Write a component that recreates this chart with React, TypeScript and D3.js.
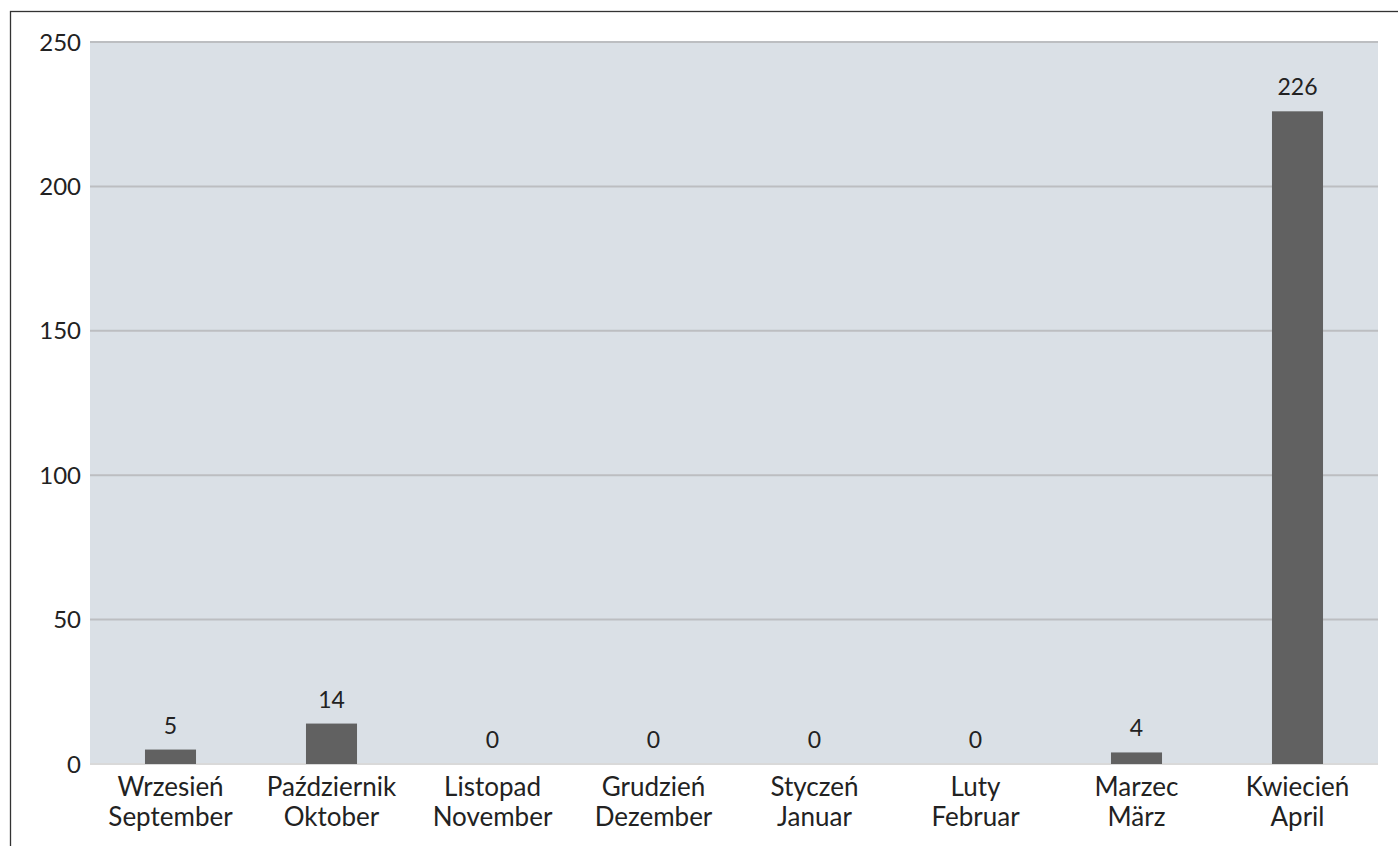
import React, { useEffect, useRef } from "react";
import * as d3 from "d3";

const monthsPl = ["Wrzesień", "Październik", "Listopad", "Grudzień", "Styczeń", "Luty", "Marzec", "Kwiecień"];
const monthsDe = ["September", "Oktober", "November", "Dezember", "Januar", "Februar", "März", "April"];
const counts = [5, 14, 0, 0, 0, 0, 4, 226];
const yTicks = [0, 50, 100, 150, 200, 250];

const App = () => {
  const chartRef = useRef<SVGSVGElement>(null);

  useEffect(() => {
    document.body.style.margin = "0";
    const width = 1398;
    const height = 846;
    const margin = { top: 42, right: 20, bottom: 82, left: 90 };
    const font = "Lato, 'Noto Sans', sans-serif";

    const svg = d3.select(chartRef.current);
    svg.selectAll("*").remove();

    const x = d3
      .scaleBand()
      .domain(monthsPl)
      .range([margin.left, width - margin.right])
      .paddingInner(0.683)
      .paddingOuter(0.3415);

    const y = d3
      .scaleLinear()
      .domain([0, 250])
      .range([height - margin.bottom, margin.top]);

    // outer frame (extends past the page on right/bottom)
    svg
      .append("rect")
      .attr("x", 10.5)
      .attr("y", 11.5)
      .attr("width", width + 20)
      .attr("height", height + 20)
      .attr("fill", "none")
      .attr("stroke", "#333")
      .attr("stroke-width", 1.3);

    svg
      .append("rect")
      .attr("x", margin.left)
      .attr("y", margin.top)
      .attr("width", width - margin.right - margin.left)
      .attr("height", y(0) - margin.top)
      .attr("fill", "#dae0e6");

    svg
      .selectAll(".grid")
      .data(yTicks.filter((d) => d > 0))
      .enter()
      .append("line")
      .attr("class", "grid")
      .attr("x1", margin.left)
      .attr("x2", width - margin.right)
      .attr("y1", (d) => y(d))
      .attr("y2", (d) => y(d))
      .attr("stroke", "#bcbec1")
      .attr("stroke-width", 2);

    svg
      .append("line")
      .attr("x1", margin.left)
      .attr("x2", width - margin.right)
      .attr("y1", y(0))
      .attr("y2", y(0))
      .attr("stroke", "#d9d9d9")
      .attr("stroke-width", 2);

    svg
      .selectAll(".bar")
      .data(counts)
      .enter()
      .append("rect")
      .attr("class", "bar")
      .attr("x", (d, i) => x(monthsPl[i])!)
      .attr("width", x.bandwidth())
      .attr("y", (d) => y(d))
      .attr("height", (d) => y(0) - y(d))
      .attr("fill", "#616161");

    svg
      .selectAll(".val")
      .data(counts)
      .enter()
      .append("text")
      .attr("class", "val")
      .attr("x", (d, i) => x(monthsPl[i])! + x.bandwidth() / 2)
      .attr("y", (d) => y(d) - 16)
      .attr("text-anchor", "middle")
      .style("font-family", font)
      .style("font-size", "23px")
      .style("fill", "#222")
      .text((d) => d);

    svg
      .selectAll(".ytick")
      .data(yTicks)
      .enter()
      .append("text")
      .attr("class", "ytick")
      .attr("x", margin.left - 9)
      .attr("y", (d) => y(d))
      .attr("dy", "0.36em")
      .attr("text-anchor", "end")
      .style("font-family", font)
      .style("font-size", "24px")
      .style("fill", "#222")
      .text((d) => d);

    const labels = svg
      .selectAll(".xlab")
      .data(monthsPl)
      .enter()
      .append("text")
      .attr("class", "xlab")
      .attr("text-anchor", "middle")
      .style("font-family", font)
      .style("font-size", "26px")
      .style("fill", "#222");

    labels
      .append("tspan")
      .attr("x", (d) => x(d)! + x.bandwidth() / 2)
      .attr("y", y(0) + 32)
      .text((d) => d);

    labels
      .append("tspan")
      .attr("x", (d) => x(d)! + x.bandwidth() / 2)
      .attr("y", y(0) + 62)
      .text((d, i) => monthsDe[i]);
  }, []);

  return (
    <div>
      <svg ref={chartRef} width={1398} height={846} style={{ display: "block" }}></svg>
    </div>
  );
};

export default App;
